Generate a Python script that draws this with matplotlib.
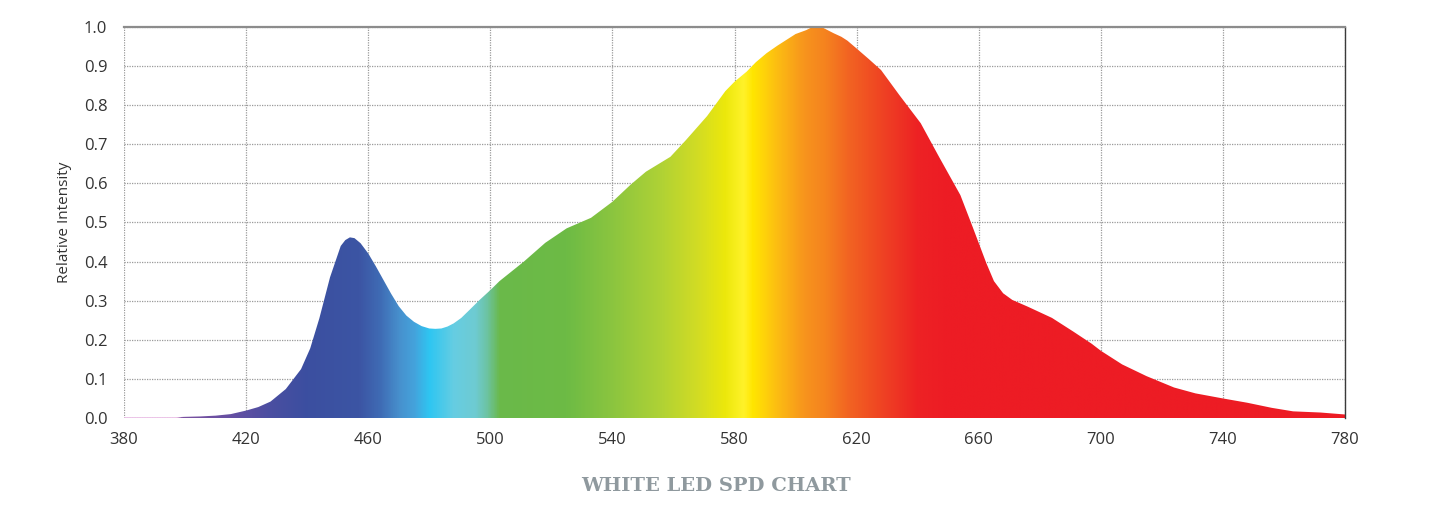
import numpy as np
import matplotlib
matplotlib.use("Agg")
import matplotlib.pyplot as plt
from matplotlib.colors import LinearSegmentedColormap, Normalize

# ---- data ----
wavelength = [380, 390, 397, 400, 405, 410, 415, 420, 424, 428, 433, 438, 441, 444,
              447.5, 451, 452.5, 454, 455.5, 457.5, 460, 462.5, 465, 467.5, 470, 472.5,
              475, 477.5, 480, 482, 484, 486, 488, 490.5, 493, 496.5, 500, 503, 507,
              511, 518, 525, 533, 540, 546, 551, 559, 564, 571, 577, 580, 584, 587,
              590.5, 594, 597, 600, 603.5, 605, 607, 609, 612.5, 615, 617, 620, 624,
              628, 634, 641, 647, 654, 658, 662.5, 665, 668, 671, 676, 684, 691, 697,
              700, 707, 715, 724, 731, 740, 748, 756, 763, 772, 780]
intensity = [0.002, 0.002, 0.002, 0.003, 0.004, 0.006, 0.010, 0.019, 0.028, 0.042, 0.074,
             0.125, 0.178, 0.255, 0.360, 0.440, 0.455, 0.462, 0.460, 0.447, 0.421, 0.388,
             0.353, 0.318, 0.286, 0.262, 0.246, 0.235, 0.229, 0.228, 0.229, 0.234, 0.242,
             0.256, 0.275, 0.302, 0.327, 0.350, 0.375, 0.400, 0.448, 0.485, 0.512, 0.553,
             0.597, 0.630, 0.668, 0.710, 0.772, 0.836, 0.860, 0.886, 0.910, 0.933, 0.952,
             0.967, 0.982, 0.992, 0.998, 1.000, 0.998, 0.984, 0.975, 0.965, 0.945, 0.918,
             0.890, 0.826, 0.754, 0.668, 0.570, 0.489, 0.396, 0.350, 0.319, 0.302, 0.285,
             0.256, 0.221, 0.190, 0.172, 0.137, 0.107, 0.078, 0.063, 0.050, 0.039, 0.026,
             0.017, 0.014, 0.009]
x_ticks = [380, 420, 460, 500, 540, 580, 620, 660, 700, 740, 780]
y_ticks = [0.0, 0.1, 0.2, 0.3, 0.4, 0.5, 0.6, 0.7, 0.8, 0.9, 1.0]
y_label = "Relative Intensity"
title = "WHITE LED SPD CHART"

# ---- spectrum colour stops (nm, colour) ----
stops = [(380, "#e9b8e4"), (397, "#e9b8e4"), (399, "#7a50a0"), (415, "#6650a3"),
         (428, "#4a4ea1"), (440, "#3b4fa0"), (457, "#3c55a4"), (464, "#3f6cb5"),
         (470, "#4790cd"), (475, "#44a3dc"), (480, "#2ec6f2"), (488, "#66cde2"),
         (495, "#6ecbd2"), (499, "#6cc3a0"), (503, "#6ab94a"), (525, "#6dbb45"),
         (540, "#8bc53f"), (555, "#add136"), (568, "#d2dc24"), (577, "#ece80b"),
         (583, "#fff22a"), (586, "#ffe600"), (590, "#fed20a"), (594, "#fcbd12"),
         (603, "#f7941d"), (610, "#f5821f"), (617, "#f26522"), (628, "#ef4423"),
         (640, "#ed2224"), (650, "#ed1c24"), (780, "#ed1c24")]
lo, hi = 380, 780
cmap = LinearSegmentedColormap.from_list(
    "spec", [((w - lo) / (hi - lo), c) for w, c in stops], N=1024)

fig = plt.figure(figsize=(14.32, 5.07), dpi=100)
ax = fig.add_axes([124 / 1432, 89 / 507, 1221 / 1432, 391 / 507])

grad = np.linspace(lo, hi, 1600)[None, :].repeat(2, axis=0)
im = ax.imshow(grad, cmap=cmap, norm=Normalize(lo, hi), extent=[lo, hi, 0, 1],
               aspect="auto", origin="lower", interpolation="bilinear", zorder=2)
poly = ax.fill_between(wavelength, intensity, facecolor="none", edgecolor="none", lw=0)
im.set_clip_path(poly.get_paths()[0], transform=ax.transData)

ax.set_xlim(lo, hi)
ax.set_ylim(0, 1)
ax.set_xticks(x_ticks)
ax.set_yticks(y_ticks)
ax.set_yticklabels([f"{v:.1f}" for v in y_ticks])
ax.set_axisbelow(True)
ax.grid(True, color="#9a9a9a", linestyle=(0, (1, 1)), linewidth=0.9, zorder=0)
for s in ("left", "bottom"):
    ax.spines[s].set_visible(False)
ax.spines["top"].set_color("#8c8c8c")
ax.spines["top"].set_linewidth(1.6)
ax.spines["right"].set_color("#3a3a3a")
ax.spines["right"].set_linewidth(1.0)
ax.tick_params(axis="both", length=0, labelsize=12, labelcolor="#333333")
ax.tick_params(axis="y", pad=12)
ax.tick_params(axis="x", pad=10)
for lab in ax.get_xticklabels() + ax.get_yticklabels():
    lab.set_family("Open Sans")

ax.set_ylabel(y_label, fontsize=11, color="#333333", family="Open Sans")
ax.yaxis.set_label_coords(-0.0426, 0.5)

fig.text(0.5, 1 - 486 / 507, title, ha="center", va="center", fontsize=14,
         color="#8f999e", family="DejaVu Serif", fontweight="bold")

fig.savefig("out.png", dpi=100)
